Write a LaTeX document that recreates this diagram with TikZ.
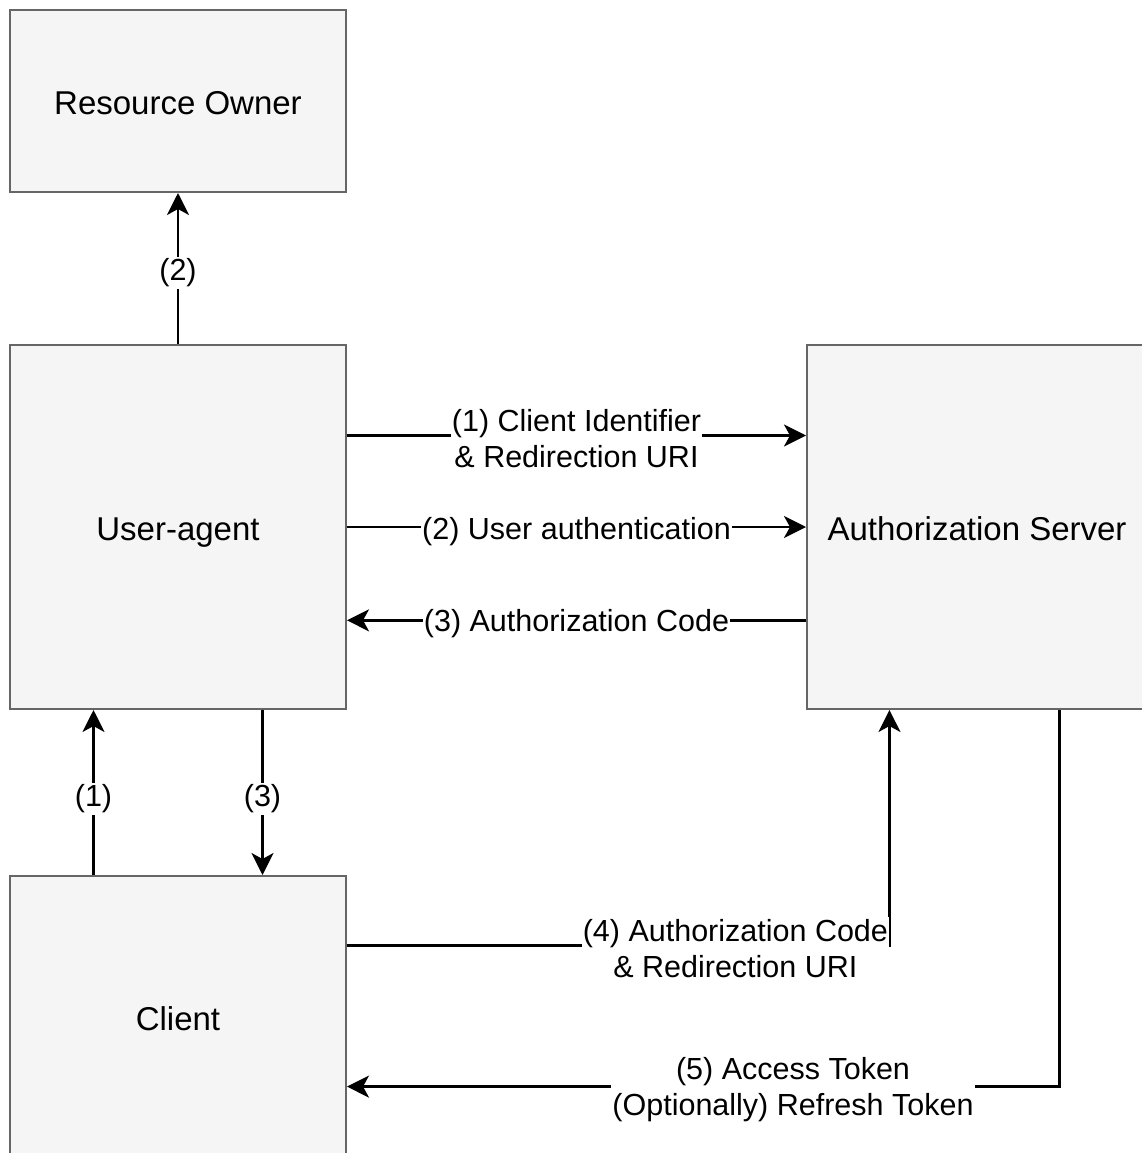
\documentclass[tikz,border=0pt]{standalone}
\usepackage{fontspec}
\setmainfont{Liberation Sans}
\usetikzlibrary{calc,arrows.meta}

\tikzset{
  actor/.style={draw=boxgray, fill=boxfill, line width=2pt, rectangle,
    inner sep=0pt, text height=30pt, text depth=4pt,
    font=\fontsize{33}{40}\selectfont},
  arr/.style={line width=2.6pt, -{Stealth[length=22pt,width=22pt,inset=6pt]}},
  lbl/.style={fill=white, inner xsep=1pt, inner ysep=2pt, align=center,
    yshift=-3pt, font=\fontsize{30.5}{36}\selectfont},
  lblone/.style={lbl, yshift=-1.5pt}
}
\definecolor{boxgray}{HTML}{666666}
\definecolor{boxfill}{HTML}{F5F5F5}

\begin{document}
\begin{tikzpicture}[x=1pt,y=-1pt]
  \clip (0,0) rectangle (1142,1153);
  \fill[white] (0,0) rectangle (1142,1153);

  % participants
  \node[actor, minimum width=336pt, minimum height=182pt] (ro) at (178,101) {Resource Owner};
  \node[actor, minimum width=336pt, minimum height=364pt] (ua) at (178,527) {User-agent};
  \node[actor, minimum width=340pt, minimum height=364pt] (as) at (977,527) {Authorization Server};
  \node[actor, minimum width=336pt, minimum height=282pt] (cl) at (178,1017) {Client};

  % attachment points on the box sides
  \coordinate (ua1) at ($(ua.north east)!0.25!(ua.south east)$);
  \coordinate (ua2) at ($(ua.north east)!0.5!(ua.south east)$);
  \coordinate (ua3) at ($(ua.north east)!0.755!(ua.south east)$);
  \coordinate (as1) at ($(as.north west)!0.25!(as.south west)$);
  \coordinate (as2) at ($(as.north west)!0.5!(as.south west)$);
  \coordinate (as3) at ($(as.north west)!0.755!(as.south west)$);
  \coordinate (uab1) at ($(ua.south west)!0.25!(ua.south east)$);
  \coordinate (uab3) at ($(ua.south west)!0.75!(ua.south east)$);
  \coordinate (clt1) at ($(cl.north west)!0.25!(cl.north east)$);
  \coordinate (clt3) at ($(cl.north west)!0.75!(cl.north east)$);
  \coordinate (cl4) at ($(cl.north east)!0.248!(cl.south east)$);
  \coordinate (cl5) at ($(cl.north east)!0.745!(cl.south east)$);
  \coordinate (asb4) at ($(as.south west)!0.244!(as.south east)$);
  \coordinate (asb5) at ($(as.south west)!0.741!(as.south east)$);

  % user-agent <-> resource owner
  \draw[arr] (ua.north) -- node[lblone] {(2)} (ro.south);

  % user-agent <-> authorization server
  \draw[arr] (ua1) -- node[lbl] {(1) Client Identifier\\\& Redirection URI} (as1);
  \draw[arr] (ua2) -- node[lblone] {(2) User authentication} (as2);
  \draw[arr] (as3) -- node[lbl] {(3) Authorization Code} (ua3);

  % client <-> user-agent
  \draw[arr] (clt1) -- node[lblone, yshift=-2pt] {(1)} (uab1);
  \draw[arr] (uab3) -- node[lblone, yshift=-2pt] {(3)} (clt3);

  % client <-> authorization server
  \draw[arr] (cl4) -| node[lbl, pos=0.358] {(4) Authorization Code\\\& Redirection URI} (asb4);
  \draw[arr] (asb5) |- node[lbl, pos=0.687] {(5) Access Token\\(Optionally) Refresh Token} (cl5);
\end{tikzpicture}
\end{document}
